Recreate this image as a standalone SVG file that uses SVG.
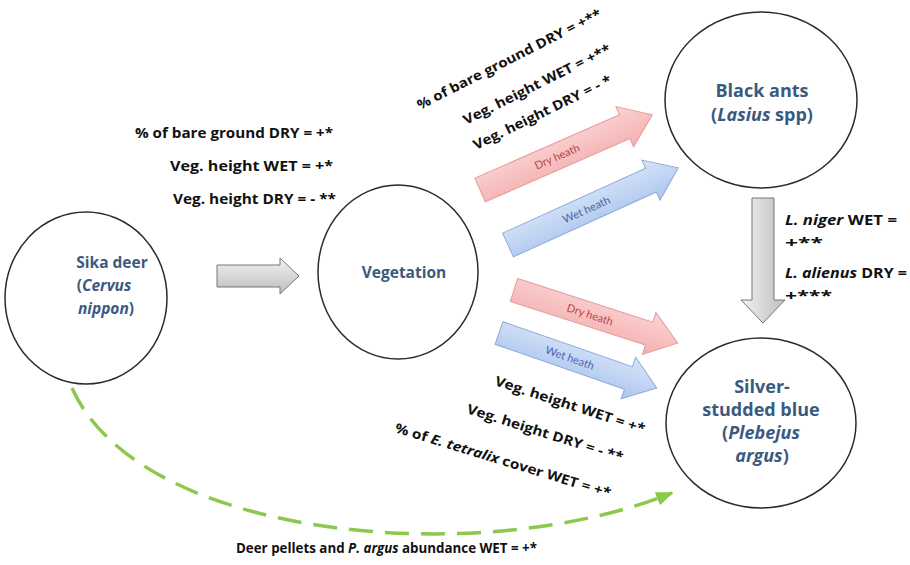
<svg xmlns="http://www.w3.org/2000/svg" width="910" height="565" viewBox="0 0 910 565">
<style>
.node{fill:#fff;stroke:#2b2b2b;stroke-width:1.5}
.nl{font-family:"Open Sans",Lato,sans-serif;font-weight:bold;font-size:18px;fill:#3b5a80;text-anchor:middle}
.ns{font-size:15.5px}
.lb{font-family:"Open Sans",Lato,sans-serif;font-weight:bold;font-size:13.5px;fill:#111}
.ah{font-family:Lato,"Open Sans",sans-serif;font-size:11px}
.pink{fill:url(#gp);stroke:#e49a9a;stroke-width:1}
.blue{fill:url(#gb);stroke:#8eaadb;stroke-width:1}
.grey{stroke:#777;stroke-width:1}
</style>
<defs>
<linearGradient id="gp" x1="0" y1="0" x2="0" y2="1"><stop offset="0" stop-color="#fbd3d3"/><stop offset="1" stop-color="#f4b0b0"/></linearGradient>
<linearGradient id="gb" x1="0" y1="0" x2="0" y2="1"><stop offset="0" stop-color="#d7e4f8"/><stop offset="1" stop-color="#adc6ee"/></linearGradient>
<linearGradient id="gh" x1="0" y1="0" x2="0" y2="1"><stop offset="0" stop-color="#f2f2f2"/><stop offset="1" stop-color="#bdbdbd"/></linearGradient>
<linearGradient id="gv" x1="0" y1="0" x2="1" y2="0"><stop offset="0" stop-color="#f2f2f2"/><stop offset="1" stop-color="#bdbdbd"/></linearGradient>
<marker id="gm" viewBox="0 0 10 10" refX="9" refY="5" markerWidth="5" markerHeight="5" orient="auto" markerUnits="strokeWidth">
<path d="M0,1 L10,5 L0,9 Z" fill="#8cc84b"/>
</marker>
</defs>

<g id="sika-deer">
<ellipse class="node" cx="86" cy="298" rx="81" ry="86"/>
<text class="nl ns" x="112" y="268">Sika deer</text>
<text class="nl ns" x="104" y="291">(<tspan font-style="italic">Cervus</tspan></text>
<text class="nl ns" x="106" y="314"><tspan font-style="italic">nippon</tspan>)</text>
</g>
<g id="vegetation">
<ellipse class="node" cx="398" cy="272" rx="80" ry="87"/>
<text class="nl ns" x="404" y="278">Vegetation</text>
</g>
<g id="black-ants">
<ellipse class="node" cx="761" cy="100" rx="96" ry="88"/>
<text class="nl" x="762" y="97">Black ants</text>
<text class="nl" x="762" y="121">(<tspan font-style="italic">Lasius</tspan> spp)</text>
</g>
<g id="silver-studded-blue">
<ellipse class="node" cx="761" cy="423" rx="95" ry="85"/>
<text class="nl" x="762" y="393">Silver-</text>
<text class="nl" x="761" y="416">studded blue</text>
<text class="nl" x="761" y="439">(<tspan font-style="italic">Plebejus</tspan></text>
<text class="nl" x="762" y="462"><tspan font-style="italic">argus</tspan>)</text>
</g>

<g id="connectors">
<path class="grey" fill="url(#gh)" d="M217,265 L280,265 L280,258 L299,276 L280,294 L280,287 L217,287 Z"/>
<path class="grey" fill="url(#gv)" d="M752,198 L774,198 L774,300 L785,300 L763,323 L741,300 L752,300 Z"/>
<g transform="translate(480,190) rotate(-23.6)">
<path class="pink" d="M0,-13 L158,-13 L158,-22 L188,0 L158,22 L158,13 L0,13 Z"/>
<text class="ah" x="84" y="4" fill="#c0404e" text-anchor="middle">Dry heath</text>
</g>
<g transform="translate(508,245) rotate(-24.4)">
<path class="blue" d="M0,-13 L157,-13 L157,-22 L187,0 L157,22 L157,13 L0,13 Z"/>
<text class="ah" x="86" y="4" fill="#4a64a8" text-anchor="middle">Wet heath</text>
</g>
<g transform="translate(514,290) rotate(17.9)">
<path class="pink" d="M0,-12 L142,-12 L142,-22 L172,0 L142,22 L142,12 L0,12 Z"/>
<text class="ah" x="80" y="4" fill="#c0404e" text-anchor="middle">Dry heath</text>
</g>
<g transform="translate(499,333) rotate(19.2)">
<path class="blue" d="M0,-12 L137,-12 L137,-22 L167,0 L137,22 L137,12 L0,12 Z"/>
<text class="ah" x="75" y="4" fill="#4a64a8" text-anchor="middle">Wet heath</text>
</g>
<path d="M72,388 C140,540 480,570 672,493" fill="none" stroke="#8cc84b" stroke-width="3.5" stroke-dasharray="24,12" marker-end="url(#gm)"/>
</g>

<g id="labels">
<text class="lb" x="135" y="138" textLength="198" lengthAdjust="spacingAndGlyphs">% of bare ground DRY = +*</text>
<text class="lb" x="170" y="171" textLength="163" lengthAdjust="spacingAndGlyphs">Veg. height WET = +*</text>
<text class="lb" x="173" y="204" textLength="163" lengthAdjust="spacingAndGlyphs">Veg. height DRY = - **</text>
<text class="lb" transform="translate(420,110) rotate(-27)" textLength="205" lengthAdjust="spacingAndGlyphs">% of bare ground DRY = +**</text>
<text class="lb" transform="translate(466,125) rotate(-26.5)" textLength="163" lengthAdjust="spacingAndGlyphs">Veg. height WET = +**</text>
<text class="lb" transform="translate(476,150) rotate(-26)" textLength="152" lengthAdjust="spacingAndGlyphs">Veg. height DRY = - *</text>
<text class="lb" transform="translate(494,385) rotate(18)" textLength="157" lengthAdjust="spacingAndGlyphs">Veg. height WET = +*</text>
<text class="lb" transform="translate(466,413) rotate(17.5)" textLength="163" lengthAdjust="spacingAndGlyphs">Veg. height DRY = - **</text>
<text class="lb" transform="translate(394,432) rotate(17)" textLength="225" lengthAdjust="spacingAndGlyphs">% of <tspan font-style="italic">E. tetralix</tspan> cover WET = +*</text>
<text class="lb" x="785" y="225" textLength="112" lengthAdjust="spacingAndGlyphs"><tspan font-style="italic">L. niger</tspan> WET =</text>
<text class="lb" x="785" y="248" textLength="38" lengthAdjust="spacingAndGlyphs">+**</text>
<text class="lb" x="785" y="278" textLength="122" lengthAdjust="spacingAndGlyphs"><tspan font-style="italic">L. alienus</tspan> DRY =</text>
<text class="lb" x="785" y="301" textLength="47" lengthAdjust="spacingAndGlyphs">+***</text>
<text class="lb" x="236" y="553" textLength="301" lengthAdjust="spacingAndGlyphs">Deer pellets and <tspan font-style="italic">P. argus</tspan> abundance WET = +*</text>
</g>
</svg>
